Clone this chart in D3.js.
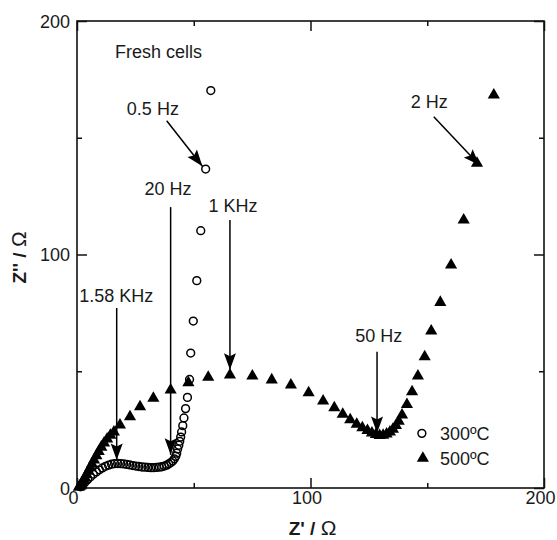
<!DOCTYPE html>
<html>
<head>
<meta charset="utf-8">
<script src="https://cdn.jsdelivr.net/npm/d3@7"></script>
<style>
  html, body { margin: 0; padding: 0; background: #fff; }
  svg { display: block; }
  text { font-family: "Liberation Sans", Arial, sans-serif; fill: #1a1a1a; }
</style>
</head>
<body>
<svg id="chart" width="557" height="540"></svg>
<script>
// Nyquist data, Z' (real) and Z'' (imaginary), in ohms
const series300 = [
  [1.5,0.5],[2.5,1.5],[3.5,2.6],[4.6,3.7],[5.8,4.8],[7.0,5.9],[8.3,6.9],[9.6,7.8],
  [10.9,8.6],[12.2,9.3],[13.5,9.8],[14.8,10.2],[16.1,10.4],[17.4,10.5],[18.7,10.4],
  [20.0,10.3],[21.3,10.1],[22.6,9.9],[23.9,9.6],[25.2,9.4],[26.5,9.2],[27.8,9.0],
  [29.1,8.9],[30.4,8.8],[31.6,8.7],[32.8,8.7],[34.0,8.8],[35.2,8.9],[36.3,9.1],
  [37.4,9.4],[38.4,9.8],[39.3,10.3],[40.2,10.9],[41.0,11.6],[41.7,12.5],[42.3,13.6],
  [42.7,14.9],[43.1,16.7],[43.6,18.3],[44.0,20.0],[44.4,21.8],[44.8,24.0],[45.3,26.7],
  [45.8,30.0],[46.5,34.0],[47.3,38.8],[48.2,46.5],[48.7,57.8],[49.8,71.5],[51.3,88.8],
  [53.0,110.2],[55.1,136.6],[57.3,170.2]
];
const series500 = [
  [0.8,0.3],[1.2,0.8],[1.7,1.5],[2.2,2.3],[2.8,3.3],[3.4,4.5],[4.1,5.8],[4.8,7.2],
  [5.6,8.7],[6.4,10.3],[7.3,12.0],[8.3,13.8],[9.3,15.6],[10.4,17.5],[11.6,19.3],
  [12.9,21.0],[14.3,22.6],[15.8,24.0],[18.4,27.0],[22.7,30.5],[27.0,34.8],[32.7,38.4],
  [40.1,42.0],[47.7,45.1],[56.2,47.4],[65.5,48.4],[75.1,48.0],[83.4,46.3],[91.6,44.1],
  [99.2,40.8],[105.4,37.3],[110.2,34.4],[113.8,31.6],[117.0,29.2],[119.8,27.3],
  [122.2,25.8],[124.4,24.6],[126.3,23.6],[128.0,22.9],[129.6,22.5],[131.1,22.6],
  [132.6,23.1],[134.0,24.0],[135.3,25.2],[136.6,26.8],[137.8,28.6],[139.2,31.3],
  [141.3,35.8],[143.5,41.2],[146.0,48.0],[148.9,56.2],[151.7,67.2],[155.6,79.5],
  [160.2,95.5],[165.6,114.8],[171.3,139.1],[178.5,168.3]
];
const majorTicks = [0, 100, 200];
const minorTicks = [50, 150];
const seriesNames = ["300ºC", "500ºC"];

// frequency markers: arrow tail, arrow tip and label anchor in data units
const markers = [
  { label: "0.5 Hz",   from: [38.4, 157.3], to: [53.7, 137.8], at: [32.5, 159.8] },
  { label: "20 Hz",    from: [40.1, 120.3], to: [40.1, 14.2],  at: [39.0, 125.3] },
  { label: "1 KHz",    from: [65.5, 114.8], to: [65.5, 50.6],  at: [66.8, 118.2] },
  { label: "1.58 KHz", from: [17.0, 77.1],  to: [17.0, 12.0],  at: [16.8, 79.5] },
  { label: "2 Hz",     from: [152.8, 159.0], to: [172.4, 138.2], at: [150.9, 162.6] },
  { label: "50 Hz",    from: [128.5, 58.4], to: [128.5, 23.6], at: [129.2, 62.5] }
];

const svg = d3.select("#chart");
const margin = { left: 77, top: 21, right: 13, bottom: 52 };
const W = 557 - margin.left - margin.right;
const H = 540 - margin.top - margin.bottom;

const x = d3.scaleLinear().domain([0, 200]).range([0, W]);
const y = d3.scaleLinear().domain([0, 200]).range([H, 0]);

const g = svg.append("g").attr("transform", `translate(${margin.left},${margin.top})`);

// inward ticks on all four sides
function inwardAxis(axisFn, scale, vals, len, withLabels) {
  return axisFn(scale).tickValues(vals).tickSizeInner(-len).tickSizeOuter(0)
    .tickFormat(withLabels ? d3.format("d") : "");
}
function drawAxis(transform, axisFn, scale) {
  const a = g.append("g").attr("transform", transform);
  a.call(inwardAxis(axisFn, scale, minorTicks, 5, false));
  const b = g.append("g").attr("transform", transform);
  b.call(inwardAxis(axisFn, scale, majorTicks, 10, axisFn === d3.axisBottom || axisFn === d3.axisLeft));
  [a, b].forEach(s => {
    s.select(".domain").remove();
    s.selectAll("line").attr("stroke", "#111").attr("stroke-width", 1.5);
    s.selectAll("text").style("font-size", "18px").attr("fill", "#1a1a1a");
  });
  return b;
}
const bottomAx = drawAxis(`translate(0,${H})`, d3.axisBottom, x);
bottomAx.selectAll("text").attr("dy", "0").attr("y", 16).attr("x", -4);
const leftAx = drawAxis("translate(0,0)", d3.axisLeft, y);
leftAx.selectAll("text").attr("x", -7).attr("dy", "0.36em");
drawAxis("translate(0,0)", d3.axisTop, x);
drawAxis(`translate(${W},0)`, d3.axisRight, y);

// frame
g.append("rect").attr("x", 0).attr("y", 0).attr("width", W).attr("height", H)
  .attr("fill", "none").attr("stroke", "#111").attr("stroke-width", 1.6);

// axis titles
const xt = svg.append("text")
  .attr("x", margin.left + W / 2 + 2).attr("y", 535)
  .attr("text-anchor", "middle").style("font-size", "19px");
xt.append("tspan").attr("font-weight", "bold").text("Z' / ");
xt.append("tspan").style("font-size", "21px").text("Ω");

const yt = svg.append("text")
  .attr("transform", `translate(26,${margin.top + H / 2 + 3}) rotate(-90)`)
  .attr("text-anchor", "middle").style("font-size", "19px");
yt.append("tspan").attr("font-weight", "bold").text("Z'' / ");
yt.append("tspan").style("font-size", "21px").text("Ω");

// data marks
const tri = d3.symbol().type(d3.symbolTriangle).size(64);
g.append("g").selectAll("path").data(series500).join("path")
  .attr("d", tri)
  .attr("transform", d => `translate(${x(d[0])},${y(d[1])})`)
  .attr("fill", "#000");

g.append("g").selectAll("circle").data(series300).join("circle")
  .attr("cx", d => x(d[0])).attr("cy", d => y(d[1])).attr("r", 3.9)
  .attr("fill", "none").attr("stroke", "#000").attr("stroke-width", 1.5);

// frequency markers with arrows
function arrowHead(x1, y1, x2, y2) {
  const ang = Math.atan2(y2 - y1, x2 - x1);
  const L = 16.5, w = 6, notch = 3;
  const pt = (dx, dy) => [x2 + dx * Math.cos(ang) - dy * Math.sin(ang),
                          y2 + dx * Math.sin(ang) + dy * Math.cos(ang)];
  return [pt(0, 0), pt(-L, -w), pt(-L + notch, 0), pt(-L, w)];
}
const mk = g.append("g");
markers.forEach(m => {
  const x1 = x(m.from[0]), y1 = y(m.from[1]), x2 = x(m.to[0]), y2 = y(m.to[1]);
  mk.append("line").attr("x1", x1).attr("y1", y1).attr("x2", x2).attr("y2", y2)
    .attr("stroke", "#000").attr("stroke-width", 1.5);
  mk.append("polygon").attr("points", arrowHead(x1, y1, x2, y2).map(p => p.join(",")).join(" "))
    .attr("fill", "#000");
  mk.append("text").attr("x", x(m.at[0])).attr("y", y(m.at[1]))
    .attr("text-anchor", "middle").style("font-size", "18px").text(m.label);
});

g.append("text").attr("x", x(16.3)).attr("y", y(184.2))
  .style("font-size", "18px").text("Fresh cells");

// legend
const lg = g.append("g").attr("transform", `translate(${x(147.7)},${y(23.4)})`);
lg.append("circle").attr("cx", 0).attr("cy", 0).attr("r", 3.9)
  .attr("fill", "none").attr("stroke", "#000").attr("stroke-width", 1.5);
lg.append("path").attr("d", tri).attr("transform", "translate(1,25)").attr("fill", "#000");
seriesNames.forEach((name, i) => {
  lg.append("text").attr("x", 18).attr("y", i * 25).attr("dy", "0.36em")
    .style("font-size", "18px").text(name);
});
</script>
</body>
</html>
